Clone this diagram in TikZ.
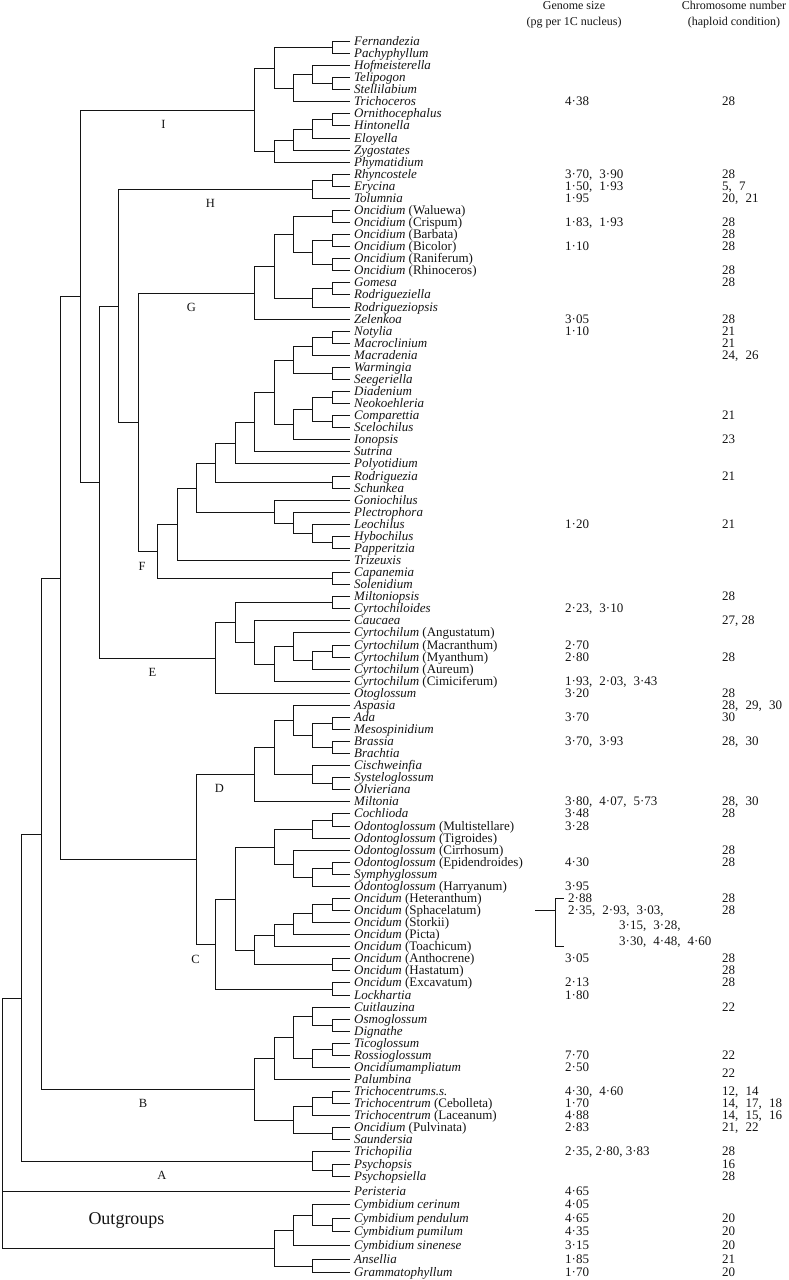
\documentclass[tikz,border=0pt]{standalone}
\usepackage{fontspec}
\setmainfont{Liberation Serif}
\usepackage{tikz}
\usepackage{xcolor}
\usetikzlibrary{calc}
\definecolor{treeInk}{RGB}{20,20,20}
\newcommand{\wsep}{,\hspace{0.55em}}
\newcommand{\CladeJoin}[4]{%
  \path ($(#3)!.5!(#4)$);
  \pgfgetlastxy{\midX}{\midY}%
  \pgfmathsetmacro\cladeX{round(2+19.4*#2)+0.5}%
  \pgfmathsetmacro\cladeY{ceil(\midY)-0.5}%
  \coordinate (#1) at (\cladeX pt,\cladeY pt);
  \draw[branch] (#3) -| (#1) |- (#4);}
\tikzset{
  branch/.style={draw=treeInk,line width=1.6pt},
  taxon/.style={anchor=base west,inner sep=0pt,yshift=-4.4pt,font=\fontsize{13}{13}\selectfont,text=treeInk},
  datum/.style={anchor=base west,inner sep=0pt,yshift=-4.4pt,font=\fontsize{13}{13}\selectfont,text=treeInk},
  cladeTag/.style={inner sep=0pt,font=\fontsize{12.5}{12.5}\selectfont,text=treeInk},
  colHead/.style={inner sep=0pt,align=center,font=\fontsize{12}{16}\selectfont,text=treeInk}
}

\begin{document}
\begin{tikzpicture}[x=1pt,y=-1pt]
\useasboundingbox (0,0) rectangle (788,1280);

\node[colHead] (headGenome) at (574,15) {Genome size\\(pg per 1C nucleus)};
\node[colHead] (headChrom) at (734,15) {Chromosome number\\(haploid condition)};

% taxa, top to bottom
\foreach \i/\nm/\lab in {
  0/fern/\textit{Fernandezia}, 1/pachy/\textit{Pachyphyllum}, 2/hofm/\textit{Hofmeisterella},
  3/telip/\textit{Telipogon}, 4/stelli/\textit{Stellilabium}, 5/trichoc/\textit{Trichoceros},
  6/ornith/\textit{Ornithocephalus}, 7/hinton/\textit{Hintonella}, 8/eloy/\textit{Eloyella},
  9/zygo/\textit{Zygostates}, 10/phyma/\textit{Phymatidium}, 11/rhync/\textit{Rhyncostele},
  12/eryc/\textit{Erycina}, 13/tolum/\textit{Tolumnia},
  14/onwal/{\textit{Oncidium} (Waluewa)}, 15/oncri/{\textit{Oncidium} (Crispum)},
  16/onbar/{\textit{Oncidium} (Barbata)}, 17/onbic/{\textit{Oncidium} (Bicolor)},
  18/onran/{\textit{Oncidium} (Raniferum)}, 19/onrhi/{\textit{Oncidium} (Rhinoceros)},
  20/gomesa/\textit{Gomesa}, 21/rodzla/\textit{Rodrigueziella}, 22/rodzps/\textit{Rodrigueziopsis},
  23/zelen/\textit{Zelenkoa}, 24/notyl/\textit{Notylia}, 25/macrocl/\textit{Macroclinium},
  26/macrad/\textit{Macradenia}, 27/warm/\textit{Warmingia}, 28/seeg/\textit{Seegeriella},
  29/diaden/\textit{Diadenium}, 30/neok/\textit{Neokoehleria}, 31/compar/\textit{Comparettia},
  32/scelo/\textit{Scelochilus}, 33/ionop/\textit{Ionopsis}, 34/sutrina/\textit{Sutrina},
  35/polyot/\textit{Polyotidium}, 36/rodrig/\textit{Rodriguezia}, 37/schunk/\textit{Schunkea},
  38/gonio/\textit{Goniochilus}, 39/plectro/\textit{Plectrophora}, 40/leoch/\textit{Leochilus},
  41/hyboch/\textit{Hybochilus}, 42/papper/\textit{Papperitzia}, 43/trizeux/\textit{Trizeuxis},
  44/capan/\textit{Capanemia}, 45/solen/\textit{Solenidium}, 46/miltps/\textit{Miltoniopsis},
  47/cyrtds/\textit{Cyrtochiloides}, 48/cauc/\textit{Caucaea},
  49/cyang/{\textit{Cyrtochilum} (Angustatum)}, 50/cymac/{\textit{Cyrtochilum} (Macranthum)},
  51/cymya/{\textit{Cyrtochilum} (Myanthum)}, 52/cyaur/{\textit{Cyrtochilum} (Aureum)},
  53/cycim/{\textit{Cyrtochilum} (Cimiciferum)}, 54/otogl/\textit{Otoglossum},
  55/aspas/\textit{Aspasia}, 56/ada/\textit{Ada}, 57/mesosp/\textit{Mesospinidium},
  58/brassia/\textit{Brassia}, 59/bracht/\textit{Brachtia}, 60/cischw/\textit{Cischweinfia},
  61/systel/\textit{Systeloglossum}, 62/olvier/\textit{Olvieriana}, 63/milton/\textit{Miltonia},
  64/cochl/\textit{Cochlioda}, 65/odmul/{\textit{Odontoglossum} (Multistellare)},
  66/odtig/{\textit{Odontoglossum} (Tigroides)}, 67/odcir/{\textit{Odontoglossum} (Cirrhosum)},
  68/odepi/{\textit{Odontoglossum} (Epidendroides)}, 69/symph/\textit{Symphyglossum},
  70/odhar/{\textit{Odontoglossum} (Harryanum)}, 71/onhet/{\textit{Oncidum} (Heteranthum)},
  72/onsph/{\textit{Oncidum} (Sphacelatum)}, 73/onsto/{\textit{Oncidum} (Storkii)},
  74/onpic/{\textit{Oncidum} (Picta)}, 75/ontoa/{\textit{Oncidum} (Toachicum)},
  76/onant/{\textit{Oncidum} (Anthocrene)}, 77/onhas/{\textit{Oncidum} (Hastatum)},
  78/onexc/{\textit{Oncidum} (Excavatum)}, 79/lockh/\textit{Lockhartia},
  80/cuitl/\textit{Cuitlauzina}, 81/osmog/\textit{Osmoglossum}, 82/dignat/\textit{Dignathe},
  83/ticog/\textit{Ticoglossum}, 84/rossio/\textit{Rossioglossum}, 85/onampl/\textit{Oncidiumampliatum},
  86/palumb/\textit{Palumbina}, 87/trcss/\textit{Trichocentrums.s.},
  88/trceb/{\textit{Trichocentrum} (Cebolleta)}, 89/trlac/{\textit{Trichocentrum} (Laceanum)},
  90/onpul/{\textit{Oncidium} (Pulvinata)}, 91/saund/\textit{Saundersia},
  92/trichp/\textit{Trichopilia}, 93/psych/\textit{Psychopsis}, 94/psyla/\textit{Psychopsiella},
  95/perist/\textit{Peristeria}, 96/cycer/\textit{Cymbidium cerinum},
  97/cypen/\textit{Cymbidium pendulum}, 98/cypum/\textit{Cymbidium pumilum},
  99/cysin/\textit{Cymbidium sinenese}, 100/ansel/\textit{Ansellia},
  101/gramm/\textit{Grammatophyllum}}{
  \pgfmathsetmacro\ly{round(\i<95 ? 41+12.07*\i : 1190.5+13.6*(\i-95))+0.5}
  \coordinate (\nm) at (350,\ly);
  \node[taxon] (\nm-t) at (354,\ly) {\lab};
}

% clade I
\CladeJoin{c1}{17}{fern}{pachy}
\CladeJoin{c2}{17}{telip}{stelli}
\CladeJoin{c3}{16}{hofm}{c2}
\CladeJoin{c4}{15}{c3}{trichoc}
\CladeJoin{c5}{14}{c1}{c4}
\CladeJoin{c6}{17}{ornith}{hinton}
\CladeJoin{c7}{16}{c6}{eloy}
\CladeJoin{c8}{15}{c7}{zygo}
\CladeJoin{c9}{14}{c8}{phyma}
\CladeJoin{cI}{13}{c5}{c9}
% clade H
\CladeJoin{h1}{17}{rhync}{eryc}
\CladeJoin{cH}{16}{h1}{tolum}
% clade G
\CladeJoin{g1}{17}{onwal}{oncri}
\CladeJoin{g2}{17}{onbar}{onbic}
\CladeJoin{g3}{17}{onran}{onrhi}
\CladeJoin{g4}{16}{g2}{g3}
\CladeJoin{g5}{15}{g1}{g4}
\CladeJoin{g6}{17}{gomesa}{rodzla}
\CladeJoin{g7}{16}{g6}{rodzps}
\CladeJoin{g8}{14}{g5}{g7}
\CladeJoin{cG}{13}{g8}{zelen}
% clade F
\CladeJoin{f1}{17}{notyl}{macrocl}
\CladeJoin{f2}{16}{f1}{macrad}
\CladeJoin{f3}{17}{warm}{seeg}
\CladeJoin{f4}{15}{f2}{f3}
\CladeJoin{f5}{17}{diaden}{neok}
\CladeJoin{f6}{17}{compar}{scelo}
\CladeJoin{f7}{16}{f5}{f6}
\CladeJoin{f8}{15}{f7}{ionop}
\CladeJoin{f9}{14}{f4}{f8}
\CladeJoin{f10}{13}{f9}{sutrina}
\CladeJoin{f11}{12}{f10}{polyot}
\CladeJoin{f12}{17}{rodrig}{schunk}
\CladeJoin{f13}{11}{f11}{f12}
\CladeJoin{f14}{17}{hyboch}{papper}
\CladeJoin{f15}{16}{leoch}{f14}
\CladeJoin{f16}{15}{plectro}{f15}
\CladeJoin{f17}{14}{gonio}{f16}
\CladeJoin{f18}{10}{f13}{f17}
\CladeJoin{f19}{9}{f18}{trizeux}
\CladeJoin{f20}{17}{capan}{solen}
\CladeJoin{cF}{8}{f19}{f20}
% clade E
\CladeJoin{e1}{17}{miltps}{cyrtds}
\CladeJoin{e2}{17}{cymac}{cymya}
\CladeJoin{e3}{16}{e2}{cyaur}
\CladeJoin{e4}{15}{cyang}{e3}
\CladeJoin{e5}{14}{e4}{cycim}
\CladeJoin{e6}{13}{cauc}{e5}
\CladeJoin{e7}{12}{e1}{e6}
\CladeJoin{cE}{11}{e7}{otogl}
% clade D
\CladeJoin{d1}{17}{ada}{mesosp}
\CladeJoin{d2}{17}{brassia}{bracht}
\CladeJoin{d3}{16}{d1}{d2}
\CladeJoin{d4}{15}{aspas}{d3}
\CladeJoin{d5}{17}{systel}{olvier}
\CladeJoin{d6}{16}{cischw}{d5}
\CladeJoin{d7}{14}{d4}{d6}
\CladeJoin{cD}{13}{d7}{milton}
% clade C
\CladeJoin{k1}{17}{cochl}{odmul}
\CladeJoin{k2}{16}{k1}{odtig}
\CladeJoin{k3}{17}{odepi}{symph}
\CladeJoin{k4}{16}{k3}{odhar}
\CladeJoin{k5}{15}{odcir}{k4}
\CladeJoin{k6}{14}{k2}{k5}
\CladeJoin{k7}{17}{onhet}{onsph}
\CladeJoin{k8}{16}{k7}{onsto}
\CladeJoin{k9}{15}{k8}{onpic}
\CladeJoin{k10}{14}{k9}{ontoa}
\CladeJoin{k11}{17}{onant}{onhas}
\CladeJoin{k12}{13}{k10}{k11}
\CladeJoin{k13}{12}{k6}{k12}
\CladeJoin{k14}{17}{onexc}{lockh}
\CladeJoin{cC}{11}{k13}{k14}
% clade B
\CladeJoin{b1}{17}{osmog}{dignat}
\CladeJoin{b2}{16}{cuitl}{b1}
\CladeJoin{b3}{17}{ticog}{rossio}
\CladeJoin{b4}{16}{b3}{onampl}
\CladeJoin{b5}{15}{b2}{b4}
\CladeJoin{b6}{14}{b5}{palumb}
\CladeJoin{b7}{17}{trcss}{trceb}
\CladeJoin{b8}{16}{b7}{trlac}
\CladeJoin{b9}{17}{onpul}{saund}
\CladeJoin{b10}{15}{b8}{b9}
\CladeJoin{cB}{13}{b6}{b10}
% clade A
\CladeJoin{a1}{17}{psych}{psyla}
\CladeJoin{cA}{16}{trichp}{a1}
% outgroups
\CladeJoin{o1}{17}{cypen}{cypum}
\CladeJoin{o2}{16}{cycer}{o1}
\CladeJoin{o3}{15}{o2}{cysin}
\CladeJoin{o4}{16}{ansel}{gramm}
\CladeJoin{cO}{14}{o3}{o4}
% backbone
\CladeJoin{n7}{7}{cG}{cF}
\CladeJoin{n6}{6}{cH}{n7}
\CladeJoin{n5}{5}{n6}{cE}
\CladeJoin{n4}{4}{cI}{n5}
\CladeJoin{nCD}{10}{cD}{cC}
\CladeJoin{n3}{3}{n4}{nCD}
\CladeJoin{n2}{2}{n3}{cB}
\CladeJoin{n1}{1}{n2}{cA}
\CladeJoin{root}{0}{n1}{cO}
\draw[branch] (root |- perist) -- (perist);

\node[cladeTag] (tag-I) at ($(n4 |- cI)!.5!(cI)+(-4,14)$) {I};
\node[cladeTag] (tag-H) at ($(n6 |- cH)!.5!(cH)+(-5,14)$) {H};
\node[cladeTag] (tag-G) at ($(n7 |- cG)!.5!(cG)+(-5,14)$) {G};
\node[cladeTag] (tag-F) at ($(n7 |- cF)!.5!(cF)+(-6,15)$) {F};
\node[cladeTag] (tag-E) at ($(n5 |- cE)!.5!(cE)+(-5,14)$) {E};
\node[cladeTag] (tag-D) at ($(nCD |- cD)!.5!(cD)+(-6,14)$) {D};
\node[cladeTag] (tag-C) at ($(nCD |- cC)+(-1,15)$) {C};
\node[cladeTag] (tag-B) at ($(n2 |- cB)!.5!(cB)+(-5,14)$) {B};
\node[cladeTag] (tag-A) at ($(n1 |- cA)!.5!(cA)+(-5,14)$) {A};
\node[cladeTag,font=\fontsize{18}{18}\selectfont] (tag-out) at ($(root |- perist)!.5!(root |- cO)+(124,0)$) {Outgroups};

% genome size
\foreach \nm/\val in {trichoc/4·38, rhync/{3·70\wsep 3·90}, eryc/{1·50\wsep 1·93}, tolum/1·95,
  oncri/{1·83\wsep 1·93}, onbic/1·10, zelen/3·05, notyl/1·10, leoch/1·20, cyrtds/{2·23\wsep 3·10},
  cymac/2·70, cymya/2·80, cycim/{1·93\wsep 2·03\wsep 3·43}, otogl/3·20, ada/3·70,
  brassia/{3·70\wsep 3·93}, milton/{3·80\wsep 4·07\wsep 5·73}, cochl/3·48, odmul/3·28,
  odepi/4·30, odhar/3·95, onant/3·05, onexc/2·13, lockh/1·80, rossio/7·70, onampl/2·50,
  trcss/{4·30\wsep 4·60}, trceb/1·70, trlac/4·88, onpul/2·83, trichp/{2·35, 2·80, 3·83},
  perist/4·65, cycer/4·05, cypen/4·65, cypum/4·35, cysin/3·15, ansel/1·85, gramm/1·70}{
  \node[datum] (g-\nm) at (565,0 |- \nm) {\val};
}
\node[datum] (g-onhet) at (568,0 |- onhet) {2·88};
\node[datum] (g-onsph) at (568,0 |- onsph) {2·35\wsep 2·93\wsep 3·03,};
\node[datum] (g-onsph-b) at (619,925) {3·15\wsep 3·28,};
\node[datum] (g-onsph-c) at (619,941) {3·30\wsep 4·48\wsep 4·60};
\coordinate (brTop) at (555.5,0 |- onhet);
\coordinate (brBot) at (555.5,0 |- ontoa);
\coordinate (brStub) at (535,0 |- onsph);
\draw[branch] ([xshift=8pt]brTop) -- (brTop) -- (brBot) -- ([xshift=8pt]brBot);
\draw[branch] (brStub) -- (brStub -| brTop);

% chromosome number
\foreach \nm/\val in {trichoc/28, rhync/28, eryc/{5\wsep 7}, tolum/{20\wsep 21}, oncri/28,
  onbar/28, onbic/28, onrhi/28, gomesa/28, zelen/28, notyl/21, macrocl/21, macrad/{24\wsep 26},
  compar/21, ionop/23, rodrig/21, leoch/21, miltps/28, cauc/{27, 28}, cymya/28, otogl/28,
  aspas/{28\wsep 29\wsep 30}, ada/30, brassia/{28\wsep 30}, milton/{28\wsep 30}, cochl/28,
  odcir/28, odepi/28, onhet/28, onsph/28, onant/28, onhas/28, onexc/28, cuitl/22, rossio/22,
  trcss/{12\wsep 14}, trceb/{14\wsep 17\wsep 18}, trlac/{14\wsep 15\wsep 16}, onpul/{21\wsep 22},
  trichp/28, psych/16, psyla/28, cypen/20, cypum/20, cysin/20, ansel/21, gramm/20}{
  \node[datum] (c-\nm) at (722,0 |- \nm) {\val};
}
\node[datum] (c-onampl) at ($(722,0 |- onampl)+(0,6)$) {22};
\end{tikzpicture}
\end{document}
